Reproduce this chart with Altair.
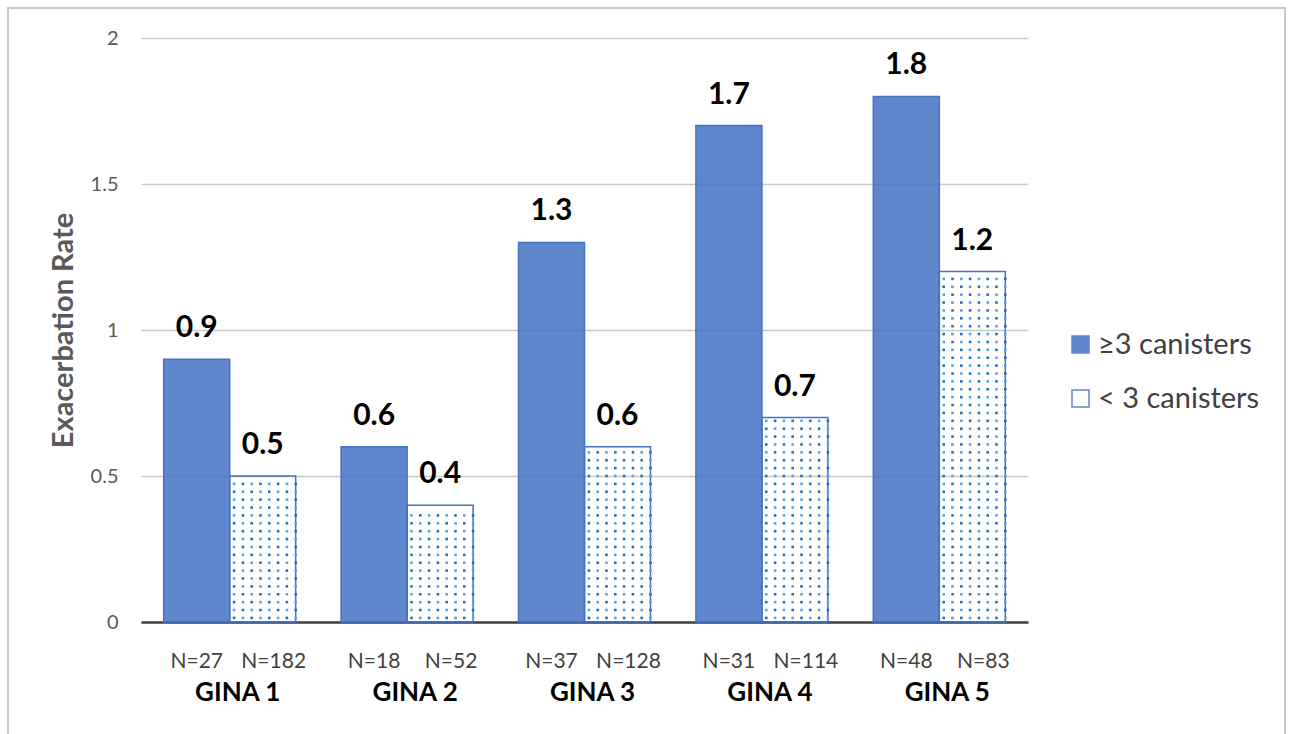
import altair as alt
import pandas as pd

groups = ["GINA 1", "GINA 2", "GINA 3", "GINA 4", "GINA 5"]
series = ["≥3 canisters", "< 3 canisters"]
high_rate = [0.9, 0.6, 1.3, 1.7, 1.8]
low_rate = [0.5, 0.4, 0.6, 0.7, 1.2]
high_n = ["N=27", "N=18", "N=37", "N=31", "N=48"]
low_n = ["N=182", "N=52", "N=128", "N=114", "N=83"]
y_ticks = [0, 0.5, 1, 1.5, 2]

rows = []
for g, hv, lv, hn, ln in zip(groups, high_rate, low_rate, high_n, low_n):
    rows.append(dict(group=g, series=series[0], rate=hv, n=hn, label=f"{hv:.1f}"))
    rows.append(dict(group=g, series=series[1], rate=lv, n=ln, label=f"{lv:.1f}"))
df = pd.DataFrame(rows)

# dot texture for the "< 3 canisters" bars, derived from the bar values
K = 8
step = 0.027
dots = []
for g, lv in zip(groups, low_rate):
    r = 0
    y = 0.014
    while y < lv - 0.01:
        for c in range(K):
            dots.append(dict(group=g, col=K + c, y=y, tone="a" if (r + c) % 2 == 0 else "b"))
        r += 1
        y += step
dots_df = pd.DataFrame(dots)

FONT = "Lato"
BLUE = "#4472C4"

x_enc = alt.X(
    "group:N",
    sort=groups,
    scale=alt.Scale(paddingInner=0.256, paddingOuter=0.128),
    axis=alt.Axis(
        title=None, ticks=False, tickSize=0, labelPadding=57, labelAngle=0, labelOffset=8,
        labelFont=FONT, labelFontSize=26, labelFontWeight="bold", labelColor="#000000",
        domain=True, domainColor="#404040", domainWidth=2.5, grid=False,
    ),
)
y_scale = alt.Scale(domain=[0, 2], nice=False)
off_scale = alt.Scale(domain=series)

base = alt.Chart(df)

bars = base.mark_bar(stroke=BLUE, strokeWidth=1.5).encode(
    x=x_enc,
    xOffset=alt.XOffset("series:N", sort=series, scale=off_scale),
    y=alt.Y(
        "rate:Q",
        scale=y_scale,
        axis=alt.Axis(
            values=y_ticks, format="~g", title="Exacerbation Rate", ticks=False, domain=False,
            labelFont=FONT, labelFontSize=20, labelColor="#595959", labelPadding=23,
            gridColor="#c8c8c8", gridWidth=1.3,
            titleFont=FONT, titleFontSize=29, titleFontWeight="bold", titleColor="#595959",
            titleX=-78, titleY=292, titleAngle=-90, titleAlign="center", titleBaseline="middle",
        ),
    ),
    fill=alt.Fill(
        "series:N",
        sort=series,
        scale=alt.Scale(domain=series, range=[BLUE, "#ffffff"]),
        legend=alt.Legend(
            title=None, orient="none", legendX=925, legendY=292, symbolType="square",
            symbolSize=289, symbolStrokeColor=BLUE, symbolStrokeWidth=1.5,
            labelFont=FONT, labelFontSize=29, labelColor="#404040", labelOffset=3,
            labelLimit=400, rowPadding=24, symbolOpacity=0.85,
        ),
    ),
    fillOpacity=alt.FillOpacity(
        "series:N", sort=series,
        scale=alt.Scale(domain=series, range=[0.85, 0.0]), legend=None,
    ),
)

value_labels = base.mark_text(
    font=FONT, fontSize=30, fontWeight="bold", color="#000000", baseline="alphabetic", dy=-22
).encode(
    x=alt.X("group:N", sort=groups),
    xOffset=alt.XOffset("series:N", sort=series, scale=off_scale),
    y=alt.Y("rate:Q", scale=y_scale),
    text="label:N",
)

def n_layer(s, dx):
    return base.transform_filter(alt.datum.series == s).mark_text(
        font=FONT, fontSize=21, color="#404040", baseline="middle", dy=40, dx=dx
    ).encode(
        x=alt.X("group:N", sort=groups),
        xOffset=alt.XOffset("series:N", sort=series, scale=off_scale),
        y=alt.datum(0),
        text="n:N",
    )

n_high = n_layer(series[0], 0)
n_low = n_layer(series[1], 11)

dot_layer = alt.Chart(dots_df).mark_square(size=6.5, opacity=1).encode(
    x=alt.X("group:N", sort=groups),
    xOffset=alt.XOffset("col:O", scale=alt.Scale(domain=list(range(2 * K)), paddingInner=0, paddingOuter=0)),
    y=alt.Y("y:Q", scale=y_scale),
    color=alt.Color("tone:N", scale=alt.Scale(domain=["a", "b"], range=["#1a6cc4", "#5f9fdc"]), legend=None),
)

frame = alt.Chart(alt.Data(values=[{"f": 1}])).mark_rect(
    fill=None, stroke="#c8c8c8", strokeWidth=2
).encode(
    x=alt.value(-133), x2=alt.value(1144), y=alt.value(-30), y2=alt.value(720)
)

chart = alt.layer(frame, bars, dot_layer, value_labels, n_high, n_low).resolve_scale(
    xOffset="independent", color="independent", fill="independent"
).properties(
    width=887, height=584,
    autosize=alt.AutoSizeParams(type="none"),
    padding={"left": 141, "top": 38, "right": 262, "bottom": 112},
    background="#ffffff",
).configure_view(stroke=None)

chart.save("out.html", embed_options={"renderer": "svg", "actions": False})
